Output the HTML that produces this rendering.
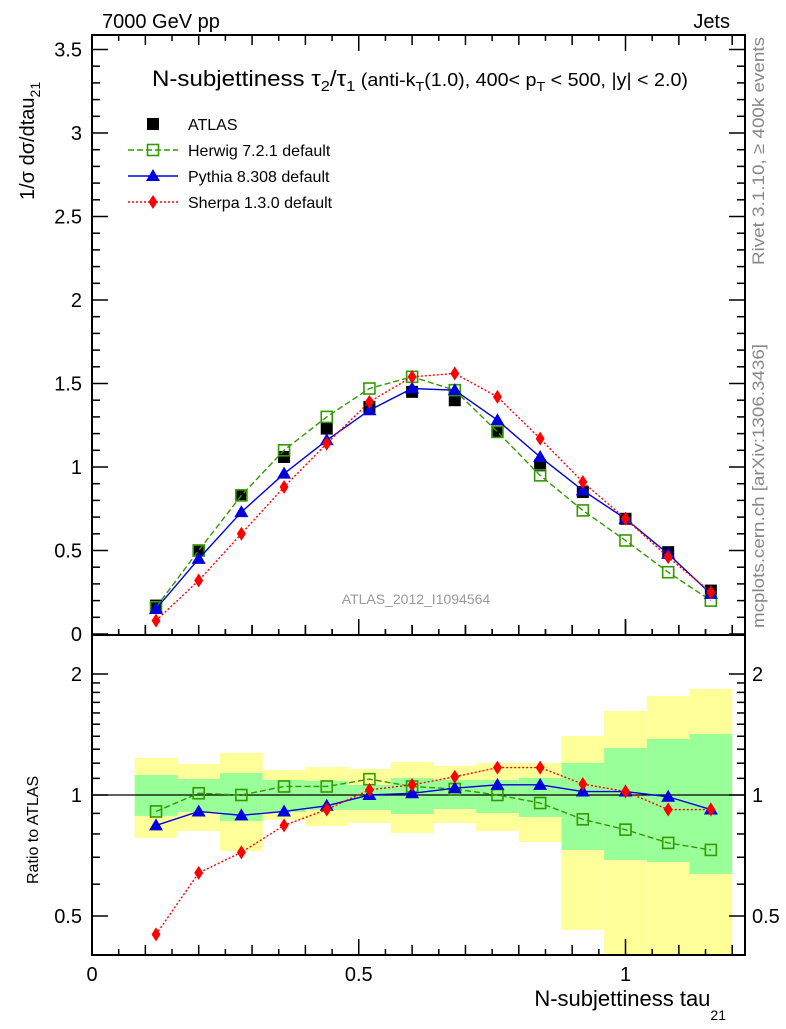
<!DOCTYPE html>
<html><head><meta charset="utf-8"><style>
body{margin:0;background:#fff;}
svg text{font-family:"Liberation Sans",sans-serif;}
</style></head><body>
<svg id="c" width="786" height="1024" xmlns="http://www.w3.org/2000/svg"></svg>
<script>
const binCenters=[0.12,0.2,0.28,0.36,0.44,0.52,0.6,0.68,0.76,0.84,0.92,1.0,1.08,1.16];
const atlasVals=[0.17,0.50,0.83,1.06,1.23,1.36,1.45,1.40,1.21,1.01,0.85,0.69,0.49,0.26];
const herwigVals=[0.16,0.50,0.83,1.10,1.30,1.47,1.54,1.46,1.21,0.95,0.74,0.56,0.37,0.20];
const pythiaVals=[0.15,0.45,0.73,0.96,1.16,1.34,1.47,1.46,1.28,1.06,0.86,0.69,0.48,0.24];
const sherpaVals=[0.08,0.32,0.60,0.88,1.14,1.39,1.54,1.56,1.42,1.17,0.91,0.69,0.46,0.25];
const herwigRatio=[0.91,1.01,1.0,1.05,1.05,1.095,1.05,1.035,1.0,0.955,0.87,0.82,0.76,0.73];
const pythiaRatio=[0.84,0.91,0.89,0.91,0.94,1.0,1.01,1.04,1.06,1.06,1.02,1.02,0.99,0.92];
const sherpaRatio=[0.45,0.64,0.72,0.84,0.92,1.03,1.06,1.11,1.17,1.17,1.065,1.02,0.92,0.92];
const yellowHi=[1.236,1.194,1.272,1.154,1.174,1.161,1.208,1.181,1.201,1.201,1.402,1.618,1.763,1.836];
const yellowLo=[0.782,0.814,0.726,0.867,0.837,0.852,0.804,0.852,0.814,0.764,0.462,0.3,0.3,0.3];
const greenHi=[1.121,1.096,1.134,1.090,1.084,1.059,1.102,1.090,1.090,1.102,1.201,1.309,1.378,1.418];
const greenLo=[0.887,0.907,0.862,0.907,0.918,0.918,0.897,0.923,0.902,0.882,0.730,0.689,0.681,0.636];
const binHalf=0.04;

const svg=document.getElementById('c');
const NS='http://www.w3.org/2000/svg';
const L=92,R=745,T=35,MB=635,RB=955;
const X=v=>L+v*533.5;
const Y=v=>634-v*167;
const YR=v=>795-121*Math.log2(v);
function mk(tag,attrs,parent){const e=document.createElementNS(NS,tag);for(const k in attrs)e.setAttribute(k,attrs[k]);(parent||svg).appendChild(e);return e;}
function txt(s,x,y,size,attrs,parent){const e=mk('text',Object.assign({x:x,y:y,'font-size':size},attrs||{}),parent);e.textContent=s;return e;}

const defs=mk('defs',{});
const cp1=mk('clipPath',{id:'cm'},defs);mk('rect',{x:L,y:T,width:R-L,height:MB-T},cp1);
const cp2=mk('clipPath',{id:'cr'},defs);mk('rect',{x:L,y:MB,width:R-L,height:RB-MB},cp2);

const bands=mk('g',{'clip-path':'url(#cr)'});


binCenters.forEach((c,i)=>{
  const r1=mk('rect',{x:X(c-binHalf),width:X(c+binHalf)-X(c-binHalf),y:YR(yellowHi[i]),height:YR(yellowLo[i])-YR(yellowHi[i]),fill:'#ffff99'},bands);
  
  
});
binCenters.forEach((c,i)=>{
  const r2=mk('rect',{x:X(c-binHalf),width:X(c+binHalf)-X(c-binHalf),y:YR(greenHi[i]),height:YR(greenLo[i])-YR(greenHi[i]),fill:'#99ff99'},bands);
  
  
});
mk('line',{x1:L,x2:R,y1:YR(1),y2:YR(1),stroke:'#000','stroke-width':1.2},bands);

const f1=mk('rect',{x:L,y:T,width:R-L,height:MB-T,fill:'none',stroke:'#000','stroke-width':2});

const f2=mk('rect',{x:L,y:MB,width:R-L,height:RB-MB,fill:'none',stroke:'#000','stroke-width':2});


const ticks=mk('g',{stroke:'#000','stroke-width':1.5});
for(let k=0;k<=24;k++){const v=k*0.05;const x=X(v);if(x>R)break;
  const len=(k%10==0)?16:(k%2==0?10:6);
  [[T,1],[MB,-1],[RB,-1]].forEach(([y0,d])=>{mk('line',{x1:x,x2:x,y1:y0,y2:y0+d*len},ticks);});
  mk('line',{x1:x,x2:x,y1:MB,y2:MB-len},ticks);
}
for(let k=0;k<=35;k++){const v=k*0.1;const y=Y(v);const len=(k%5==0)?16:8;
  mk('line',{x1:L,x2:L+len,y1:y,y2:y},ticks);mk('line',{x1:R,x2:R-len,y1:y,y2:y},ticks);}
const yLabels=['0','0.5','1','1.5','2','2.5','3','3.5'];
yLabels.forEach((s,i)=>{const t=txt(s,82,Y(i*0.5)+7,20,{'text-anchor':'end'});});
[0.4,0.5,0.6,0.7,0.8,0.9,1,1.1,1.2,1.3,1.4,1.5,1.6,1.7,1.8,1.9,2,2.5].forEach(v=>{const y=YR(v);const len=(v==0.5||v==1||v==2)?16:8;
  mk('line',{x1:L,x2:L+len,y1:y,y2:y},ticks);mk('line',{x1:R,x2:R-len,y1:y,y2:y},ticks);});
[['0.5',0.5],['1',1],['2',2]].forEach(([s,v])=>{
  txt(s,82,YR(v)+7,20,{'text-anchor':'end'});
  txt(s,752,YR(v)+7,20,{'text-anchor':'start'});
});
[['0',0],['0.5',0.5],['1',1]].forEach(([s,v])=>{const t=txt(s,X(v),981,20,{'text-anchor':'middle'});});

function marker(type,x,y,color,g){
  if(type=='sq')mk('rect',{x:x-6,y:y-6,width:12,height:12,fill:'#000'},g);
  if(type=='osq')mk('rect',{x:x-5.5,y:y-5.5,width:11,height:11,fill:'none',stroke:color,'stroke-width':1.6},g);
  if(type=='tri')mk('polygon',{points:`${x},${y-7} ${x-7},${y+5} ${x+7},${y+5}`,fill:color},g);
  if(type=='dia')mk('polygon',{points:`${x},${y-7} ${x-4.5},${y} ${x},${y+7} ${x+4.5},${y}`,fill:color},g);
}
function series(vals,yf,color,dash,type,name,clip){
  const g=mk('g',{'clip-path':clip});
  
  
  if(dash!==null){
    const pts=binCenters.map((c,i)=>X(c)+','+yf(vals[i])).join(' ');
    mk('polyline',{points:pts,fill:'none',stroke:color,'stroke-width':1.4,'stroke-dasharray':dash},g);
  }
  binCenters.forEach((c,i)=>marker(type,X(c),yf(vals[i]),color,g));
}
series(atlasVals,Y,'#000',null,'sq','atlas-data','url(#cm)');
series(herwigVals,Y,'#339900','6,3','osq','herwig-series','url(#cm)');
series(pythiaVals,Y,'#0000dd','none','tri','pythia-series','url(#cm)');
series(sherpaVals,Y,'#ff0000','2,2','dia','sherpa-series','url(#cm)');
series(herwigRatio,YR,'#339900','6,3','osq','herwig-ratio','url(#cr)');
series(pythiaRatio,YR,'#0000dd','none','tri','pythia-ratio','url(#cr)');
series(sherpaRatio,YR,'#ff0000','2,2','dia','sherpa-ratio','url(#cr)');

const leg=[['ATLAS','#000',null,'sq'],['Herwig 7.2.1 default','#339900','6,3','osq'],['Pythia 8.308 default','#0000dd','none','tri'],['Sherpa 1.3.0 default','#ff0000','2,2','dia']];
leg.forEach(([s,c,d,t],i)=>{const y=124+i*26;const g=mk('g',{});
  
  
  if(d!==null)mk('line',{x1:128,x2:178,y1:y,y2:y,stroke:c,'stroke-width':1.4,'stroke-dasharray':d},g);
  marker(t,153,y,c,g);txt(s,188,y+6,16,{},g);});
</script>
<svg width="786" height="1024" style="position:absolute;left:0;top:0" xmlns="http://www.w3.org/2000/svg">
<text x="102" y="28" font-size="20" font-family="Liberation Sans">7000 GeV pp</text>
<text x="730" y="28" font-size="20" font-family="Liberation Sans" text-anchor="end">Jets</text>
<text x="152" y="86" font-size="22" font-family="Liberation Sans" textLength="536" lengthAdjust="spacingAndGlyphs">N-subjettiness τ<tspan font-size="15" dy="5">2</tspan><tspan dy="-5">/τ</tspan><tspan font-size="15" dy="5">1</tspan><tspan dy="-5" font-size="18"> (anti-k</tspan><tspan font-size="13" dy="5">T</tspan><tspan dy="-5" font-size="18">(1.0), 400&lt; p</tspan><tspan font-size="13" dy="5">T</tspan><tspan dy="-5" font-size="18"> &lt; 500, |y| &lt; 2.0)</tspan></text>
<text x="416" y="604" font-size="14" fill="#999" font-family="Liberation Sans" text-anchor="middle">ATLAS_2012_I1094564</text>
<text transform="translate(764,265) rotate(-90)" font-size="17" fill="#888" font-family="Liberation Sans" textLength="228" lengthAdjust="spacingAndGlyphs">Rivet 3.1.10, ≥ 400k events</text>
<text transform="translate(764,628) rotate(-90)" font-size="17" fill="#888" font-family="Liberation Sans" textLength="284" lengthAdjust="spacingAndGlyphs">mcplots.cern.ch [arXiv:1306.3436]</text>
<text transform="translate(34,200) rotate(-90)" font-size="20" font-family="Liberation Sans">1/σ dσ/dtau<tspan font-size="14" dy="6">21</tspan></text>
<text transform="translate(38,884) rotate(-90)" font-size="16" font-family="Liberation Sans">Ratio to ATLAS</text>
<text x="726" y="1006" font-size="22" font-family="Liberation Sans" text-anchor="end">N-subjettiness tau<tspan font-size="14" dy="14">21</tspan></text>
</svg>
</body></html>
